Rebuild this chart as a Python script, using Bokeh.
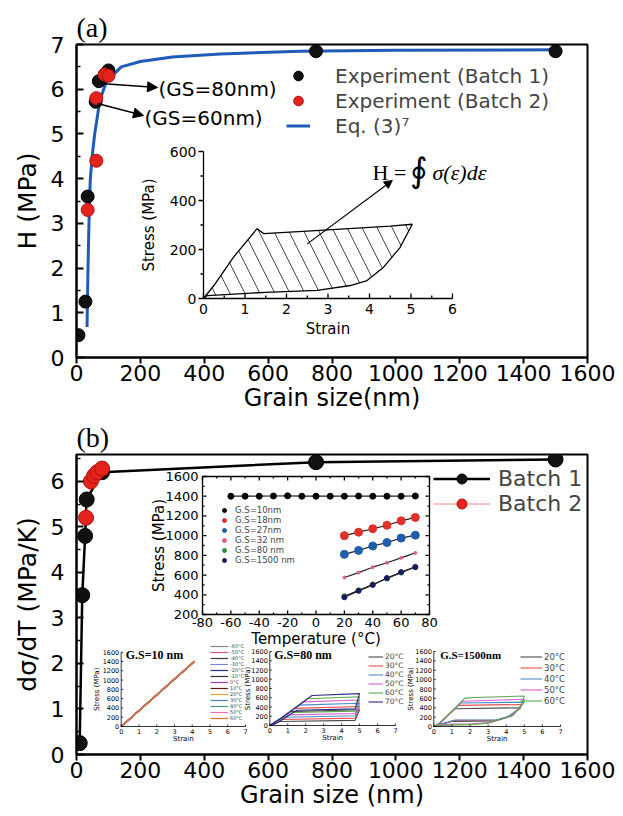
import math
from bokeh.plotting import figure
from bokeh.layouts import column
from bokeh.models import Range1d, Legend, LegendItem, Arrow, NormalHead, Label, FixedTicker, Title
from bokeh.core.properties import value
from bokeh.embed import file_html
from bokeh.resources import INLINE

SANS = "DejaVu Sans"
SERIF = "Liberation Serif"

# ================= DATA =================
# ---- panel (a): H vs grain size
a_gs_batch1 = [6, 28, 35, 60, 70, 100, 750, 1500]
a_h_batch1 = [0.5, 1.25, 3.6, 5.72, 6.18, 6.42, 6.85, 6.85]
a_gs_batch2 = [35, 62, 62, 88, 100]
a_h_batch2 = [3.3, 4.4, 5.8, 6.33, 6.3]
a_gs_eq = [33, 36, 39, 43, 49, 57, 73, 93, 140, 200, 300, 450, 700, 1000, 1500]
a_h_eq = [0.68, 2.0, 3.0, 3.96, 4.5, 5.0, 5.75, 6.16, 6.5, 6.62, 6.72, 6.79, 6.85, 6.87, 6.88]
a_xticks = [0, 200, 400, 600, 800, 1000, 1200, 1400, 1600]
a_yticks = [0, 1, 2, 3, 4, 5, 6, 7]
a_yminor = [0.5, 1.5, 2.5, 3.5, 4.5, 5.5, 6.5]

# ---- inset (a): hysteresis loop
ia_strain = [0, 0.25, 0.72, 1.29, 1.45, 2.5, 3.5, 4.5, 5.03, 4.74, 4.34, 3.94, 3.54, 2.74, 1.5, 0.09, 0]
ia_stress = [0, 53, 168, 285, 265, 275, 285, 295, 303, 209, 128, 73, 53, 33, 25, 12, 0]
ia_xticks = [0, 1, 2, 3, 4, 5, 6]
ia_xminor = [0.5, 1.5, 2.5, 3.5, 4.5, 5.5]
ia_yticks = [0, 200, 400, 600]
ia_yminor = [100, 300, 500]

# ---- panel (b): dsigma/dT vs grain size
b_gs_batch1 = [10, 18, 27, 32, 80, 750, 1500]
b_v_batch1 = [0.25, 3.5, 4.8, 5.6, 6.2, 6.42, 6.48]
b_gs_batch2 = [30, 45, 55, 65, 80]
b_v_batch2 = [5.2, 6.0, 6.12, 6.2, 6.28]
b_xticks = [0, 200, 400, 600, 800, 1000, 1200, 1400, 1600]
b_yticks = [0, 1, 2, 3, 4, 5, 6]
b_yminor = [0.5, 1.5, 2.5, 3.5, 4.5, 5.5, 6.5]

# ---- inset b1: stress vs temperature
t_gs10 = [-60, -50, -40, -30, -20, -10, 0, 10, 20, 30, 40, 50, 60, 70]
s_gs10 = [1400, 1400, 1400, 1402, 1404, 1400, 1400, 1400, 1400, 1402, 1400, 1400, 1400, 1402]
t_hot = [20, 30, 40, 50, 60, 70]
s_gs18 = [1000, 1035, 1070, 1105, 1150, 1185]
s_gs27 = [810, 850, 895, 930, 975, 1005]
s_gs32 = [575, 625, 680, 725, 775, 825]
s_gs80 = [385, 445, 505, 565, 625, 685]
s_gs1500 = [375, 440, 500, 570, 630, 680]
b1_labels = ["G.S=10nm", "G.S=18nm", "G.S=27nm", "G.S=32 nm", "G.S=80 nm", "G.S=1500 nm"]
b1_xticks = [-80, -60, -40, -20, 0, 20, 40, 60, 80]
b1_xminor = [-70, -50, -30, -10, 10, 30, 50, 70]
b1_yticks = [200, 400, 600, 800, 1000, 1200, 1400, 1600]
b1_yminor = [300, 500, 700, 900, 1100, 1300, 1500]

# ---- inset b2: G.S = 10 nm stress-strain
b2_temps = ["-60°C", "-50°C", "-40°C", "-30°C", "-20°C", "-10°C", "0°C", "10°C",
            "20°C", "30°C", "40°C", "50°C", "60°C"]
b2_end_strain = [4.12, 4.1, 4.15, 4.08, 4.1, 4.05, 4.1, 4.12, 4.0, 4.1, 4.08, 4.1, 4.15]
b2_end_stress = [1400, 1390, 1410, 1385, 1395, 1380, 1400, 1405, 1370, 1395, 1390, 1400, 1410]

# ---- inset b3: G.S = 80 nm loops
b3_temps = ["20°C", "30°C", "40°C", "50°C", "60°C", "70°C"]
b3_strain = [
    [0, 0.5, 1.1, 5.0, 4.75, 0.55, 0.2, 0],
    [0, 0.6, 1.35, 5.0, 4.75, 0.7, 0.25, 0],
    [0, 0.7, 1.6, 5.0, 4.75, 0.9, 0.3, 0],
    [0, 0.8, 1.85, 5.0, 4.75, 1.1, 0.35, 0],
    [0, 0.9, 2.1, 5.0, 4.75, 1.3, 0.4, 0],
    [0, 1.0, 2.35, 5.0, 4.75, 1.5, 0.45, 0],
]
b3_stress = [
    [0, 110, 300, 340, 110, 85, 20, 0],
    [0, 140, 370, 410, 160, 130, 30, 0],
    [0, 170, 440, 480, 210, 180, 40, 0],
    [0, 200, 510, 550, 260, 230, 50, 0],
    [0, 230, 580, 620, 310, 280, 60, 0],
    [0, 260, 650, 690, 360, 330, 70, 0],
]

# ---- inset b4: G.S = 1500 nm loops
b4_temps = ["20°C", "30°C", "40°C", "50°C", "60°C"]
b4_strain = [
    [0, 0.3, 1.2, 4.8, 4.5, 4.0, 3.3, 1.0, 0.3, 0],
    [0, 0.3, 1.35, 4.9, 4.6, 4.1, 3.4, 1.1, 0.3, 0],
    [0, 0.3, 1.5, 5.0, 4.7, 4.2, 3.5, 1.2, 0.3, 0],
    [0, 0.3, 1.6, 5.0, 4.75, 4.3, 3.2, 2.2, 1.0, 0.3, 0],
    [0, 0.3, 1.7, 2.2, 5.0, 4.85, 4.4, 3.0, 2.0, 0.8, 0.3, 0],
]
b4_stress = [
    [0, 60, 380, 400, 300, 190, 120, 110, 40, 0],
    [0, 60, 450, 470, 340, 210, 130, 130, 40, 0],
    [0, 60, 500, 520, 380, 230, 140, 140, 40, 0],
    [0, 60, 540, 580, 410, 220, 90, 60, 50, 30, 0],
    [0, 60, 600, 620, 650, 460, 240, 70, 40, 30, 20, 0],
]
small_xticks = [0, 1, 2, 3, 4, 5, 6, 7]
small_yticks = [0, 200, 400, 600, 800, 1000, 1200, 1400, 1600]

# ================= LAYOUT CONSTANTS (page pixels) =================
ORIGIN = 0
A_L, A_T, A_W, A_H = 76, 44, 511, 313
A_BOTTOM = 60
B_TOP = 36
B_L, B_W = 76, 511
B_T = A_T + A_H + A_BOTTOM + B_TOP
B_H = 753 - B_T
A_XR, A_YR = (0, 1600), (0, 7)
B_XR, B_YR = (0, 1600), (0, 6.72 * B_H / 306)

BLACK = "#111111"
RED = "#e3231c"
BLUE = "#1f5cb8"
temp_colors6 = ["#4a4a4a", "#e4504a", "#4a8ccc", "#d860d0", "#5aa845", "#2c2c8c"]
temp_colors13 = ["#888888", "#e05080", "#404040", "#8080d8", "#303078", "#333333", "#a040c0",
                 "#5a2020", "#e0a040", "#4a88c8", "#40a080", "#e870a8", "#e07030"]


def conv(frame, xr, yr):
    L, T, W, H = frame
    def f(px, py):
        return (xr[0] + (px - L) / W * (xr[1] - xr[0]),
                yr[0] + (T + H - py) / H * (yr[1] - yr[0]))
    return f


pa = conv((A_L, A_T, A_W, A_H), A_XR, A_YR)
pb = conv((B_L, B_T, B_W, B_H), B_XR, B_YR)


def add_range(p, name, frame, xlim, xpx, ylim, ypx):
    L, T, W, H = frame
    kx = (xlim[1] - xlim[0]) / (xpx[1] - xpx[0])
    ky = (ylim[1] - ylim[0]) / (ypx[1] - ypx[0])
    xr = Range1d(start=xlim[0] + (L - xpx[0]) * kx, end=xlim[0] + (L + W - xpx[0]) * kx)
    yr = Range1d(start=ylim[0] + (T + H - ypx[0]) * ky, end=ylim[0] + (T - ypx[0]) * ky)
    p.extra_x_ranges = {**p.extra_x_ranges, name: xr}
    p.extra_y_ranges = {**p.extra_y_ranges, name: yr}
    return kx, -ky


def txt(p, rn, xs, ys, texts, size, align="center", baseline="middle", angle=0.0,
        font=SANS, style="normal"):
    p.text(x=xs, y=ys, text=texts, text_font=value(font), text_font_size=value(size),
           text_align=align, text_baseline=baseline, angle=angle, text_font_style=style,
           text_color="black", x_range_name=rn, y_range_name=rn)


def inset_axes(p, rn, xlim, ylim, kx, ky, xticks, yticks, xminor, yminor, tlen, mlen,
               box, xdir, ydir, lw, fsize, xgap, ygap, xlabel, ylabel, lsize, xlgap, ylgap):
    kw = dict(x_range_name=rn, y_range_name=rn, line_color="black", line_width=lw)
    if box:
        p.quad(left=[xlim[0]], right=[xlim[1]], bottom=[ylim[0]], top=[ylim[1]],
               fill_color=None, **kw)
    else:
        p.segment(x0=[xlim[0], xlim[0]], y0=[ylim[0], ylim[0]],
                  x1=[xlim[0], xlim[1]], y1=[ylim[1], ylim[0]], **kw)
    for ticks, L in ((xticks, tlen), (xminor, mlen)):
        if ticks:
            n = len(ticks)
            p.segment(x0=ticks, y0=[ylim[0]] * n, x1=ticks, y1=[ylim[0] + xdir * L * ky] * n, **kw)
            if box:
                p.segment(x0=ticks, y0=[ylim[1]] * n, x1=ticks, y1=[ylim[1] - L * ky] * n, **kw)
    for ticks, L in ((yticks, tlen), (yminor, mlen)):
        if ticks:
            n = len(ticks)
            p.segment(x0=[xlim[0]] * n, y0=ticks, x1=[xlim[0] + ydir * L * kx] * n, y1=ticks, **kw)
            if box:
                p.segment(x0=[xlim[1]] * n, y0=ticks, x1=[xlim[1] - L * kx] * n, y1=ticks, **kw)
    txt(p, rn, xticks, [ylim[0] - xgap * ky] * len(xticks), [str(t) for t in xticks], fsize,
        baseline="top")
    txt(p, rn, [xlim[0] - ygap * kx] * len(yticks), yticks, [str(t) for t in yticks], fsize,
        align="right")
    if xlabel:
        txt(p, rn, [(xlim[0] + xlim[1]) / 2], [ylim[0] - xlgap * ky], [xlabel], lsize)
    if ylabel:
        txt(p, rn, [xlim[0] - ylgap * kx], [(ylim[0] + ylim[1]) / 2], [ylabel], lsize,
            angle=math.pi / 2)


def main_fig(frame, xr, yr, top_border, bottom_border, title):
    L, T, W, H = frame
    p = figure(frame_width=W, frame_height=H, x_range=Range1d(*xr), y_range=Range1d(*yr),
               output_backend="svg", toolbar_location=None,
               min_border_left=L - ORIGIN, min_border_right=615 - (L + W),
               min_border_top=top_border, min_border_bottom=bottom_border)
    p.title = Title(text=title, text_font=SERIF, text_font_size="28px",
                    text_font_style="normal", align="left", standoff=4, text_color="black")
    p.xgrid.visible = False
    p.ygrid.visible = False
    p.outline_line_color = "black"
    p.outline_line_width = 2
    p.outline_line_alpha = 1
    p.background_fill_color = "white"
    p.border_fill_color = "white"
    return p


def style_axes(p, xticks, yticks, yminor, xlabel, ylabel):
    xa, ya = p.xaxis[0], p.yaxis[0]
    xa.ticker = FixedTicker(ticks=xticks)
    ya.ticker = FixedTicker(ticks=yticks, minor_ticks=yminor)
    for ax in (xa, ya):
        ax.axis_line_width = 2
        ax.axis_line_color = "black"
        ax.major_tick_line_width = 2
        ax.minor_tick_line_width = 1.5
        ax.major_label_text_font = SANS
        ax.major_label_text_font_size = "22px"
        ax.major_label_text_color = "black"
        ax.axis_label_text_font = SANS
        ax.axis_label_text_font_style = "normal"
        ax.axis_label_text_color = "black"
    xa.axis_label_text_font_size = "24px"
    ya.axis_label_text_font_size = "25px"
    xa.major_tick_in, xa.major_tick_out = 0, 6
    xa.minor_tick_line_color = None
    ya.major_tick_in, ya.major_tick_out = 7, 0
    ya.minor_tick_in, ya.minor_tick_out = 4, 0
    xa.major_label_standoff = 1
    ya.major_label_standoff = 12
    xa.axis_label = xlabel
    ya.axis_label = ylabel
    xa.axis_label_standoff = 0
    ya.axis_label_standoff = 6


def legend(p, items, loc, fsize, lh, gw, standoff, spacing=0, font=SANS):
    lg = Legend(items=items, location=loc, orientation="vertical",
                background_fill_alpha=0, border_line_alpha=0, padding=0, margin=0,
                spacing=spacing, label_height=lh, glyph_height=lh, glyph_width=gw,
                label_standoff=standoff, label_text_font=font, label_text_font_size=fsize,
                label_text_baseline="middle")
    p.add_layout(lg)
    return lg


def label(p, xy, text, size, font=SANS, align="left", style="normal"):
    p.add_layout(Label(x=xy[0], y=xy[1], text=text, text_font=font, text_font_size=size,
                       text_align=align, text_baseline="middle", text_font_style=style,
                       text_color="black"))


def arrow(p, s, e, rn="default", size=10, lw=1.5):
    p.add_layout(Arrow(end=NormalHead(size=size, fill_color="black", line_color="black"),
                       x_start=s[0], y_start=s[1], x_end=e[0], y_end=e[1],
                       line_width=lw, line_color="black", x_range_name=rn, y_range_name=rn))


# ================= PANEL (a) =================
p1 = main_fig((A_L, A_T, A_W, A_H), A_XR, A_YR, A_T - ORIGIN, A_BOTTOM, "(a)")
style_axes(p1, a_xticks, a_yticks, a_yminor, "Grain size(nm)", "H (MPa)")

# inset (a)
kx, ky = add_range(p1, "ia", (A_L, A_T, A_W, A_H), (0, 6), (203, 452), (0, 600), (298, 151))
p1.patch(ia_strain, ia_stress, fill_color="white", line_color="black", line_width=1.3,
         hatch_pattern="\\", hatch_scale=30, hatch_weight=0.9, hatch_color="#333333",
         x_range_name="ia", y_range_name="ia")
inset_axes(p1, "ia", (0, 6), (0, 600), kx, ky, ia_xticks, ia_yticks, ia_xminor, ia_yminor,
           5, 3, False, 1, -1, 1.3, "14px", 5, 7, "Strain", "Stress (MPa)", "15px", 30, 55)
arrow(p1, (2.5, 223), (4.55, 482), rn="ia", size=8, lw=1.2)
label(p1, pa(372, 172), "H =", "22px", font=SERIF)
label(p1, pa(409, 170), "∮", "34px", font=SERIF)
label(p1, pa(432, 172), "σ(ε)dε", "22px", font=SERIF, style="italic")

r_eq = p1.line(a_gs_eq, a_h_eq, line_color=BLUE, line_width=3)
r_b1 = p1.scatter(a_gs_batch1, a_h_batch1, size=13, fill_color=BLACK, line_color="black",
                  line_width=1)
r_b2 = p1.scatter(a_gs_batch2, a_h_batch2, size=13, fill_color=RED, line_color="#b01010",
                  line_width=1)

arrow(p1, pa(100, 83), pa(157, 87))
arrow(p1, pa(97, 103), pa(143, 115))
label(p1, pa(158, 88), "(GS=80nm)", "20px")
label(p1, pa(144, 117), "(GS=60nm)", "20px")

legend(p1, [LegendItem(label="Experiment (Batch 1)", renderers=[r_b1]),
            LegendItem(label="Experiment (Batch 2)", renderers=[r_b2]),
            LegendItem(label="Eq. (3)⁷", renderers=[r_eq])],
       (210, A_T + A_H - 63 - 75), "20px", 25, 24, 25)

# ================= PANEL (b) =================
frameB = (B_L, B_T, B_W, B_H)
p2 = main_fig(frameB, B_XR, B_YR, B_TOP, 60, "(b)")
style_axes(p2, b_xticks, b_yticks, b_yminor, "Grain size (nm)", "dσ/dT (MPa/K)")
BB = B_T + B_H  # frame bottom, page px

# inset b1
kx, ky = add_range(p2, "b1", frameB, (-80, 80), (202, 429), (200, 1600), (613, 475))
inset_axes(p2, "b1", (-80, 80), (200, 1600), kx, ky, b1_xticks, b1_yticks, b1_xminor, b1_yminor,
           4, 2, True, 1, 1, 1.3, "13px", 3, 4, "Temperature (°C)", "Stress (MPa)", "15px", 24, 44)
b1_series = [(t_gs10, s_gs10, "black", 6), (t_hot, s_gs18, "#e0302a", 8),
             (t_hot, s_gs27, "#1f5faa", 8), (t_hot, s_gs32, "#e06080", 3),
             (t_hot, s_gs80, "#2e8b3a", 5), (t_hot, s_gs1500, "#1a1a60", 5)]
b1_items = []
for (tx, sy, col, sz), lab in zip(b1_series, b1_labels):
    p2.line(tx, sy, line_color="#222222", line_width=1.2, x_range_name="b1", y_range_name="b1")
    r = p2.scatter(tx, sy, size=sz, fill_color=col, line_color=col,
                   x_range_name="b1", y_range_name="b1")
    b1_items.append(LegendItem(label=lab, renderers=[r]))
legend(p2, b1_items, (143, BB - 504 - 60), "8.5px", 10, 10, 6)

# inset b2
kx, ky = add_range(p2, "b2", frameB, (0, 7), (120.7, 245), (0, 1600), (725, 650.7))
b2_items = []
for lab, es, ss, col in zip(b2_temps, b2_end_strain, b2_end_stress, temp_colors13):
    r = p2.line([0, es], [0, ss], line_color=col, line_width=1.2,
                x_range_name="b2", y_range_name="b2")
    b2_items.append(LegendItem(label=lab, renderers=[r]))
inset_axes(p2, "b2", (0, 7), (0, 1600), kx, ky, small_xticks, small_yticks, None, None,
           2, 1, False, 1, 1, 0.8, "6.5px", 2, 2, "Strain", "Stress (MPa)", "7px", 12, 24)
txt(p2, "b2", [0.25], [1530], ["G.S=10 nm"], "12px", align="left", font=SERIF, style="bold")
legend(p2, b2_items, (134, BB - 642 - 78), "5px", 6, 18, 2)

# inset b3
kx, ky = add_range(p2, "b3", frameB, (0, 7), (269.3, 395), (0, 1600), (724, 650))
b3_items = []
for lab, xs, ys, col in zip(b3_temps, b3_strain, b3_stress, temp_colors6):
    r = p2.line(xs, ys, line_color=col, line_width=1.1, x_range_name="b3", y_range_name="b3")
    b3_items.append(LegendItem(label=lab, renderers=[r]))
inset_axes(p2, "b3", (0, 7), (0, 1600), kx, ky, small_xticks, small_yticks, None, None,
           2, 1, False, 1, 1, 0.8, "6.5px", 2, 2, "Strain", "Stress (MPa)", "7px", 12, 22)
txt(p2, "b3", [0.25], [1530], ["G.S=80 nm"], "12px", align="left", font=SERIF, style="bold")
legend(p2, b3_items, (292, BB - 651 - 54), "7.5px", 9, 15, 2)

# inset b4
kx, ky = add_range(p2, "b4", frameB, (0, 7), (433.3, 560), (0, 1600), (725, 650))
b4_items = []
for lab, xs, ys, col in zip(b4_temps, b4_strain, b4_stress, temp_colors6):
    r = p2.line(xs, ys, line_color=col, line_width=1.1, x_range_name="b4", y_range_name="b4")
    b4_items.append(LegendItem(label=lab, renderers=[r]))
inset_axes(p2, "b4", (0, 7), (0, 1600), kx, ky, small_xticks, small_yticks, None, None,
           2, 1, False, 1, 1, 0.8, "6.5px", 2, 2, "Strain", "Stress (MPa)", "7px", 12, 23)
txt(p2, "b4", [0.35], [1530], ["G.S=1500nm"], "11px", align="left", font=SERIF, style="bold")
legend(p2, b4_items, (444, BB - 650 - 55), "8.5px", 11, 22, 2)

# main data (b)
r_l1 = p2.line(b_gs_batch1, b_v_batch1, line_color="black", line_width=2.5)
r_l2 = p2.line(b_gs_batch2, b_v_batch2, line_color="#f08080", line_width=1)
r_s1 = p2.scatter(b_gs_batch1, b_v_batch1, size=15, fill_color=BLACK, line_color="black")
r_s2 = p2.scatter(b_gs_batch2, b_v_batch2, size=15, fill_color=RED, line_color="#b01010")
legend(p2, [LegendItem(label="Batch 1", renderers=[r_l1, r_s1]),
            LegendItem(label="Batch 2", renderers=[r_l2, r_s2])],
       (357, BB - 465 - 50), "22px", 25, 57, 8)

layout = column(p1, p2, spacing=0)
open("out.html", "w").write(file_html(layout, INLINE))
